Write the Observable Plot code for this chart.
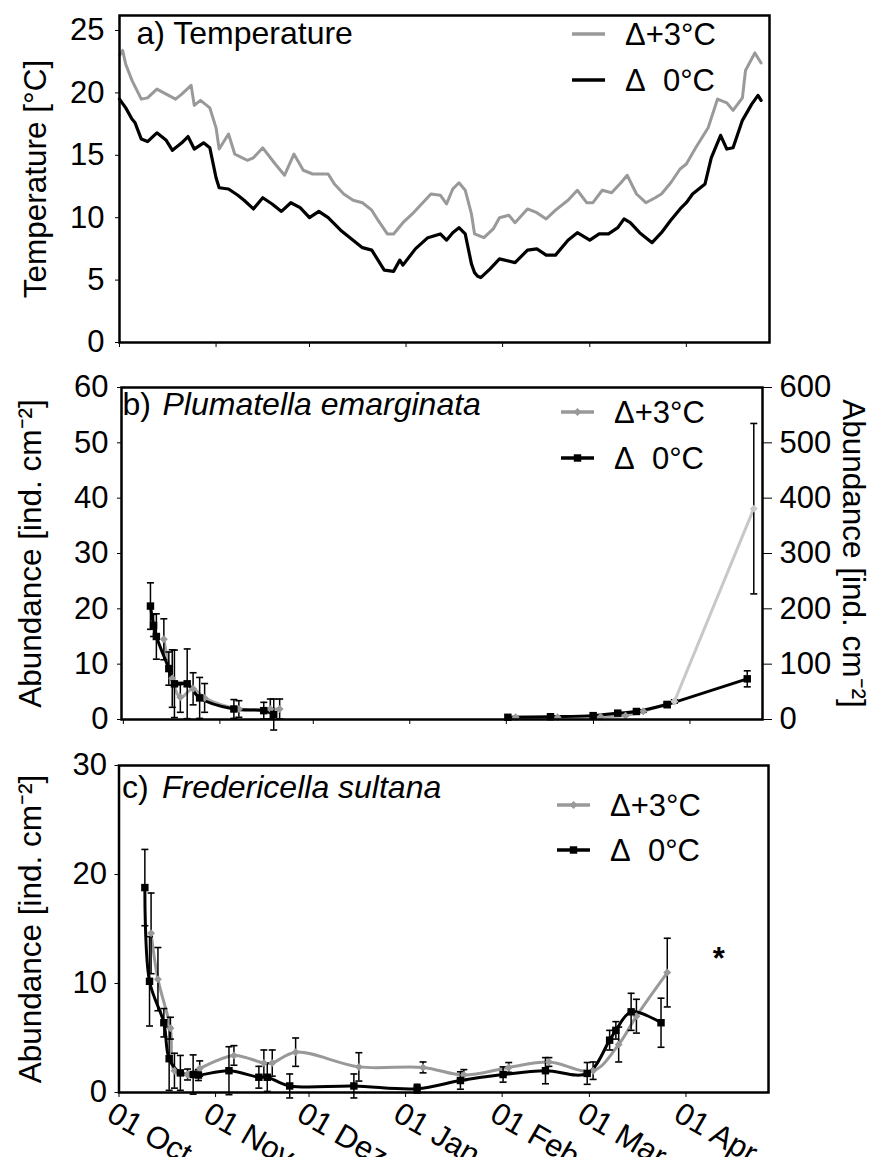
<!DOCTYPE html>
<html><head><meta charset="utf-8">
<script src="https://cdn.jsdelivr.net/npm/d3@7"></script>
<script src="https://cdn.jsdelivr.net/npm/@observablehq/plot@0.6"></script>
<style>
body{margin:0;background:#fff;}
#wrap{position:relative;width:872px;height:1157px;overflow:hidden;background:#fff;}
#wrap > svg{position:absolute;left:0;}
</style></head><body><div id="wrap"></div>
<script>
const FONT = '"Liberation Sans", Arial, Helvetica, sans-serif';

// ---- x axis (days since 01 Oct) ----
const monthDays = [0, 31, 61, 92, 123, 151, 182];
const monthLabels = ["01 Oct", "01 Nov", "01 Dez", "01 Jan", "01 Feb", "01 Mar", "01 Apr"];
const seriesNames = ["\u0394+3\u00b0C", "\u0394\u00a0\u00a00\u00b0C"];

// ---- a) Temperature ----
const tempDay0 = [0,2,4,5,7,9,12,15,17,20,22,24,27,29,31,32,35,38,40,43,46,49,52,55,58,61,64,67,71,75,78,81,83,85,88,90,91,95,99,103,105,107,109,111,113,114,115,116,119,122,127,131,134,137,140,144,147,151,154,157,160,162,164,167,171,174,177,180,182,184,188,190,193,195,197,200,203,205,206];
const temp0 = [19.5,18.8,17.9,17.6,16.3,16.1,16.8,16.2,15.4,16.0,16.5,15.5,16.0,15.6,13.2,12.4,12.3,11.8,11.4,10.7,11.6,11.1,10.5,11.2,10.8,10.0,10.5,10.0,9.0,8.2,7.6,7.4,6.6,5.8,5.7,6.6,6.2,7.5,8.4,8.7,8.2,8.8,9.2,8.7,6.3,5.6,5.3,5.2,5.9,6.7,6.4,7.4,7.5,7.0,7.0,8.2,8.8,8.2,8.7,8.7,9.2,9.9,9.6,8.8,8.0,8.8,9.8,10.7,11.2,11.9,12.7,14.8,16.6,15.5,15.6,17.8,19.1,19.8,19.4];
const tempDay3 = [0,1,2,4,7,9,12,15,18,20,23,24,26,29,31,32,35,37,41,43,46,50,53,56,59,62,67,69,72,75,78,81,83,86,88,91,94,97,100,103,105,107,109,111,113,114,117,120,122,125,127,131,134,137,140,144,147,150,152,155,158,161,163,166,169,172,174,177,180,182,185,189,192,195,197,200,201,204,206];
const temp3 = [23.0,23.4,22.3,21.0,19.5,19.6,20.3,19.9,19.5,19.9,20.6,19.0,19.4,18.8,17.2,15.5,16.7,15.1,14.6,14.8,15.6,14.3,13.4,15.1,13.8,13.5,13.5,12.7,11.9,11.4,11.2,10.6,9.8,8.7,8.7,9.6,10.3,11.1,11.9,11.8,11.1,12.3,12.8,12.2,10.3,8.7,8.4,9.1,10.0,10.2,9.6,10.7,10.4,9.9,10.6,11.4,12.2,11.2,11.2,12.2,12.0,12.8,13.4,11.9,11.2,11.6,11.9,12.8,13.9,14.3,15.6,17.2,19.5,19.2,18.6,19.6,21.8,23.2,22.4];

// ---- b) Plumatella emarginata (left axis, ind. cm-2) ----
const plumDay0 = [8.7,9.7,10.6,14.6,16.4,20.5,24.5,35.5,45.1,48.3,123.5,137.2,150.9,158.8,164.8,174.7];
const plum0    = [20.5,17.0,15.0,9.2,6.45,6.45,3.9,1.9,1.6,0.9,0.4,0.5,0.7,1.15,1.45,2.7];
const plumErr0 = [4.2,2.0,4.1,3.0,6.1,6.3,3.7,1.7,1.5,2.8,0,0,0,0.3,0.3,0.4];
const plumDay3 = [13,15.7,18.3,22.4,26.1,37.1,47.2,50.2,126,139.5,153.3,161.3,167,177];
const plum3    = [14.5,7.4,4.0,5.55,3.9,1.9,1.9,1.9,0.4,0.4,0.5,0.7,1.5,3.25];
const plumErr3 = [3.7,5.2,2.7,2.9,2.6,1.5,1.8,1.8,0,0,0,0,0.2,0.3];
// right axis (ind. cm-2, 0-600)
const plumDayR0 = [174.7, 200.4];
const plumR0    = [27, 73.5];
const plumErrR0 = [0, 14.5];
const plumDayR3 = [177, 202.5];
const plumR3    = [32.5, 381];
const plumErrR3 = [0, 154];

// ---- c) Fredericella sultana ----
const fredDay0 = [8.3,9.8,14.4,16.1,19.7,23.8,25.5,35.3,44.9,47.6,54.8,75.4,95.7,109.6,123.3,136.9,150.3,157.5,159.5,164.4,174];
const fred0    = [18.8,10.2,6.4,3.1,1.8,1.65,1.6,2.0,1.4,1.4,0.6,0.6,0.35,1.1,1.65,2.0,1.75,4.8,5.7,7.4,6.4];
const fredErr0 = [3.5,4.1,1.3,2.9,1.6,1.8,0.5,2.2,1.0,1.3,1.1,1.1,0.4,0.8,0.7,1.2,1.0,0.9,0.8,1.7,2.25];
const fredDay3 = [10.3,12.5,16.5,17.8,22,25.9,36.9,46.5,49.2,56.7,77,97.6,110.7,125.1,138,152.2,160.4,166.1,176];
const fred3    = [14.6,10.4,5.9,2.0,1.65,2.2,3.4,2.7,2.7,3.7,2.35,2.3,1.6,2.3,2.8,2.0,4.4,7.0,11.0];
const fredErr3 = [3.7,2.9,1.0,1.6,0.5,0.7,0.9,1.2,1.2,1.3,1.3,0.5,0.5,0.45,0.4,0.8,1.6,1.55,3.15];
const sigDay = [192.5];
const sigValue = [12.2];

// ---------------------------------------------------------------
const W = 872;
const wrap = document.getElementById("wrap");
const baseStyle = `font-family:${FONT};font-size:31px;background:transparent;overflow:visible;color:#000;`;
const TITLE = 31.5, LABEL = 32;
const rows = (days, vals, errs) => days.map((d, i) => ({day: d, v: vals[i], e: errs ? errs[i] : 0}));
const capSym = {draw(ctx, size) { const r = Math.sqrt(size / Math.PI); ctx.moveTo(-r, 0); ctx.lineTo(r, 0); }};
function errMarks(data) {
  const w = data.filter(d => d.e > 0);
  return [
    Plot.ruleX(w, {x: "day", y1: d => d.v - d.e, y2: d => d.v + d.e, stroke: "#000", strokeWidth: 1.5}),
    Plot.dot(w, {x: "day", y: d => d.v + d.e, symbol: capSym, r: 3.5, fill: "none", stroke: "#000", strokeWidth: 1.6}),
    Plot.dot(w, {x: "day", y: d => d.v - d.e, symbol: capSym, r: 3.5, fill: "none", stroke: "#000", strokeWidth: 1.6})
  ];
}
function place(el, top) { el.style.top = top + "px"; wrap.appendChild(el); }
const GRAY = "#999999";
const yTitle = "Abundance [ind. cm\u207b\u00b2]";
const leftTitle = (t, dx) => Plot.text([t], {frameAnchor: "left", rotate: -90, textAnchor: "middle", lineAnchor: "middle", dx, fontSize: TITLE, text: d => d});

// ---------------- Panel a ----------------
const tA0 = rows(tempDay0, temp0), tA3 = rows(tempDay3, temp3);
const pa = Plot.plot({
  width: W, height: 365, marginTop: 15, marginBottom: 23, marginLeft: 119, marginRight: 103,
  style: baseStyle,
  x: {domain: [0, 208.7], axis: null},
  y: {domain: [0, 26.2], axis: null},
  marks: [
    Plot.axisY({ticks: [0, 5, 10, 15, 20, 25], tickSize: 4, tickPadding: 11, label: null}),
    Plot.axisX({ticks: monthDays, tickSize: 5, tickFormat: () => "", label: null}),
    Plot.line(tA3, {x: "day", y: "v", stroke: GRAY, strokeWidth: 3}),
    Plot.line(tA0, {x: "day", y: "v", stroke: "#000", strokeWidth: 3.2}),
    Plot.frame({stroke: "#000", strokeWidth: 2.5}),
    leftTitle("Temperature [\u00b0C]", -84),
    Plot.text(["a) Temperature"], {frameAnchor: "top-left", textAnchor: "start", lineAnchor: "bottom", dx: 17, dy: 28, fontSize: LABEL, text: d => d})
  ]
});
place(pa, 0);

// ---------------- Panel b ----------------
const seg = d => d.day < 100 ? "autumn" : "spring";
const pB0 = rows(plumDay0, plum0, plumErr0), pB3 = rows(plumDay3, plum3, plumErr3);
const pBR0 = rows(plumDayR0, plumR0, plumErrR0), pBR3 = rows(plumDayR3, plumR3, plumErrR3);
const bDims = {width: W, height: 380, marginTop: 22, marginBottom: 26, marginLeft: 121, marginRight: 110};
const pb = Plot.plot({
  ...bDims,
  style: baseStyle,
  x: {domain: [-0.6, 205.3], axis: null},
  y: {domain: [0, 60], axis: null},
  marks: [
    Plot.axisY({ticks: d3.range(0, 61, 10), tickSize: 4, tickPadding: 9, label: null}),
    Plot.axisX({ticks: monthDays, tickSize: 5, tickFormat: () => "", label: null}),
    Plot.line(pB3, {x: "day", y: "v", z: seg, stroke: "#a8a8a8", strokeWidth: 3, curve: "catmull-rom"}),
    Plot.line(pB0, {x: "day", y: "v", z: seg, stroke: "#000", strokeWidth: 3, curve: "catmull-rom"}),
    ...errMarks(pB0), ...errMarks(pB3),
    Plot.dot(pB3, {x: "day", y: "v", symbol: "diamond2", r: 3.6, fill: GRAY}),
    Plot.dot(pB0, {x: "day", y: "v", symbol: "square", r: 4.2, fill: "#000"}),
    Plot.frame({stroke: "#000", strokeWidth: 2.5}),
    leftTitle(yTitle, -91),
    Plot.text(["b)"], {frameAnchor: "top-left", textAnchor: "start", lineAnchor: "bottom", dx: 1, dy: 27, fontSize: LABEL, text: d => d}),
    Plot.text(["Plumatella emarginata"], {frameAnchor: "top-left", textAnchor: "start", lineAnchor: "bottom", dx: 41, dy: 27, fontSize: LABEL, fontStyle: "italic", text: d => d})
  ]
});
place(pb, 365);
const pbR = Plot.plot({
  ...bDims,
  style: baseStyle,
  x: {domain: [-0.6, 205.3], axis: null},
  y: {domain: [0, 600], axis: null},
  marks: [
    Plot.axisY({anchor: "right", ticks: d3.range(0, 601, 100), tickSize: 9, tickPadding: 8, label: null}),
    Plot.line(pBR3, {x: "day", y: "v", stroke: "#c8c8c8", strokeWidth: 3}),
    Plot.line(pBR0, {x: "day", y: "v", stroke: "#000", strokeWidth: 3}),
    ...errMarks(pBR0), ...errMarks(pBR3),
    Plot.dot(pBR3, {x: "day", y: "v", symbol: "diamond2", r: 3.6, fill: "#c8c8c8"}),
    Plot.dot(pBR0, {x: "day", y: "v", symbol: "square", r: 4.2, fill: "#000"}),
    Plot.text([yTitle], {frameAnchor: "right", rotate: 90, textAnchor: "middle", lineAnchor: "middle", dx: 91, fontSize: TITLE, text: d => d})
  ]
});
place(pbR, 365);

// ---------------- Panel c ----------------
const pC0 = rows(fredDay0, fred0, fredErr0), pC3 = rows(fredDay3, fred3, fredErr3);
const sig = sigDay.map((d, i) => ({day: d, v: sigValue[i]}));
const pc = Plot.plot({
  width: W, height: 412, marginTop: 20, marginBottom: 65, marginLeft: 118.5, marginRight: 104,
  style: baseStyle,
  x: {domain: [0, 208.5], axis: null},
  y: {domain: [0, 30], axis: null},
  marks: [
    Plot.axisY({ticks: [0, 10, 20, 30], tickSize: 4, tickPadding: 8, label: null}),
    Plot.axisX({ticks: monthDays, tickSize: 5, tickFormat: () => "", label: null}),
    Plot.text(monthDays, {x: d => d, frameAnchor: "bottom", rotate: 30, textAnchor: "start", lineAnchor: "bottom",
      dx: -14, dy: 27, text: (d, i) => monthLabels[i]}),
    Plot.line(pC3, {x: "day", y: "v", stroke: GRAY, strokeWidth: 3, curve: "catmull-rom"}),
    Plot.line(pC0, {x: "day", y: "v", stroke: "#000", strokeWidth: 3, curve: "catmull-rom"}),
    ...errMarks(pC0), ...errMarks(pC3),
    Plot.dot(pC3, {x: "day", y: "v", symbol: "diamond2", r: 3.6, fill: GRAY}),
    Plot.dot(pC0, {x: "day", y: "v", symbol: "square", r: 4.2, fill: "#000"}),
    Plot.text(sig, {x: "day", y: "v", text: () => "*", fontWeight: "bold"}),
    Plot.frame({stroke: "#000", strokeWidth: 2.5}),
    leftTitle(yTitle, -88),
    Plot.text(["c)"], {frameAnchor: "top-left", textAnchor: "start", lineAnchor: "bottom", dx: 3, dy: 32, fontSize: LABEL, text: d => d}),
    Plot.text(["Fredericella sultana"], {frameAnchor: "top-left", textAnchor: "start", lineAnchor: "bottom", dx: 43, dy: 32, fontSize: LABEL, fontStyle: "italic", text: d => d})
  ]
});
place(pc, 745);

// ---------------- Legends ----------------
const lg = d3.create("svg").attr("width", W).attr("height", 1157)
  .style("font-family", FONT).style("font-size", "31px").style("pointer-events", "none");
const legends = [
  {x0: 572, x1: 605, tx: 625, ys: [34, 80], marker: false},
  {x0: 561, x1: 594, tx: 614, ys: [412, 458], marker: true},
  {x0: 557, x1: 590, tx: 610, ys: [805, 850], marker: true}
];
const legColors = [GRAY, "#000"];
for (const L of legends) {
  L.ys.forEach((y, i) => {
    lg.append("line").attr("x1", L.x0).attr("x2", L.x1).attr("y1", y).attr("y2", y)
      .attr("stroke", legColors[i]).attr("stroke-width", 3.5);
    if (L.marker) {
      const sym = i === 0 ? d3.symbolDiamond2 : d3.symbolSquare;
      const r = i === 0 ? 3.6 : 4.2;
      lg.append("path").attr("d", d3.symbol(sym, r * r * Math.PI)())
        .attr("transform", `translate(${(L.x0 + L.x1) / 2},${y})`).attr("fill", legColors[i]);
    }
    lg.append("text").attr("x", L.tx).attr("y", y).attr("dy", "0.36em").text(seriesNames[i]);
  });
}
place(lg.node(), 0);
</script>
</body></html>
